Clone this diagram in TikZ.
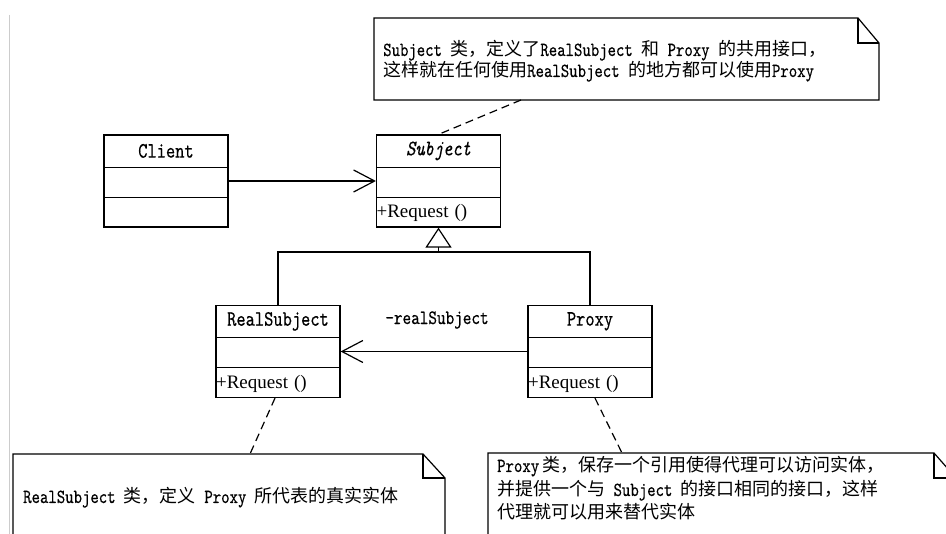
\documentclass[tikz,border=0pt]{standalone}
\usepackage{fontspec}
\setmainfont{Liberation Serif}
\newfontfamily\cjk{Noto Sans CJK SC}
\newfontfamily\umono{lmmono10-regular}[Extension=.otf, ItalicFont=lmmono10-italic, FakeStretch=0.8, FakeBold=0.4]
\usetikzlibrary{arrows.meta}
\newcommand\zh[1]{{\cjk\fontsize{18}{21}\selectfont #1}}
\tikzset{
  umlline/.style={line width=1.2pt, draw=black},
  classbox/.style={draw=black, line width=1.2pt, minimum width=124pt, minimum height=92pt, inner sep=0pt},
  cname/.style={font=\fontsize{22}{24}\selectfont\umono, inner sep=0pt},
  opname/.style={font=\fontsize{19}{21}\selectfont, anchor=west, inner sep=0.5pt},
  notetxt/.style={font=\fontsize{20}{22}\selectfont\umono, anchor=base west, inner sep=0pt},
  dashline/.style={line width=1.2pt, dash pattern=on 8pt off 5pt},
  assoc/.style={line width=1.2pt, -{Straight Barb[length=21pt,width=22pt]}},
  gentip/.style={line width=1.2pt, -{Triangle[open,length=20pt,width=26pt]}},
}
\newcommand\req{+Request\hspace{6pt}()}
\begin{document}
\begin{tikzpicture}[x=1pt,y=-1pt]
\clip (0,0) rectangle (946,534);
\fill[white] (0,0) rectangle (946,534);
% left gray border
\draw[black!20, line width=0.9pt] (9,15) -- (9,540);

% classes
\node[classbox] (client) at (166,181) {};
\node[classbox] (subject) at (438.5,181) {};
\node[classbox] (realsubject) at (278,351.5) {};
\node[classbox] (proxy) at (590,351.5) {};

\foreach \c in {client,subject,realsubject,proxy}{
  \draw[umlline] (\c.north west) ++(0,33) -- ++(124,0);
  \draw[umlline] (\c.north west) ++(0,63) -- ++(124,0);
}

\node[cname] (clientname) at ([yshift=-16.5pt]client.north) {Client};
\node[cname, font=\fontsize{22}{24}\selectfont\umono\itshape] (subjectname) at ([yshift=-16.5pt]subject.north) {Subject};
\node[cname] (realsubjectname) at ([yshift=-16.5pt]realsubject.north) {RealSubject};
\node[cname] (proxyname) at ([yshift=-16.5pt]proxy.north) {Proxy};

\node[opname] (subjectop) at ([yshift=14.5pt]subject.south west) {\req};
\node[opname] (realsubjectop) at ([yshift=14.5pt]realsubject.south west) {\req};
\node[opname] (proxyop) at ([yshift=14.5pt]proxy.south west) {\req};

% Client -> Subject
\draw[assoc] (client.east) -- (subject.west);

% generalization
\coordinate (gen) at (438.5,252);
\draw[umlline] (realsubject.north) |- (gen) -| (proxy.north);
\draw[gentip] (gen) -- (subject.south);

% Proxy -> RealSubject
\draw[assoc] (proxy.west) -- (realsubject.east);
\node[font=\fontsize{20.5}{22}\selectfont\umono, inner sep=0pt] (rslabel) at (437,320) {-realSubject};

% top note
\draw[umlline] (374,100) -- (374,18) -- (858,18) -- (879,43) -- (879,100) -- cycle;
\draw[umlline] (858,18) -- (858,43) -- (879,43);
\node[notetxt] (n1a) at (383,56) {Subject \zh{类，定义了}RealSubject \zh{和} Proxy \zh{的共用接口，}};
\node[notetxt] (n1b) at (383,77) {\zh{这样就在任何使用}RealSubject \zh{的地方都可以使用}Proxy};
\coordinate (n1) at (521,100);
\draw[dashline] (n1) -- (subject.north);

% left note
\draw[umlline] (13,545) -- (13,454) -- (423,454) -- (445,478) -- (445,545);
\draw[umlline] (423,454) -- (423,478) -- (445,478);
\node[notetxt] (n2a) at (23,503) {RealSubject \zh{类，定义} Proxy \zh{所代表的真实实体}};
\coordinate (n2) at (250,454);
\draw[dashline] ([xshift=-3pt]realsubject.south) -- (n2);

% right note
\draw[umlline] (488,545) -- (488,453) -- (934,453) -- (956,478) -- (956,545);
\draw[umlline] (934,453) -- (934,478) -- (956,478);
\node[notetxt] (n3a) at (497,472) {Proxy\,\zh{类，保存一个引用使得代理可以访问实体，}};
\node[notetxt] (n3b) at (497,496) {\zh{并提供一个与} Subject \zh{的接口相同的接口，这样}};
\node[notetxt] (n3c) at (497,519) {\zh{代理就可以用来替代实体}};
\coordinate (n3) at (622,453);
\draw[dashline] ([xshift=5pt]proxy.south) -- (n3);
\end{tikzpicture}
\end{document}
